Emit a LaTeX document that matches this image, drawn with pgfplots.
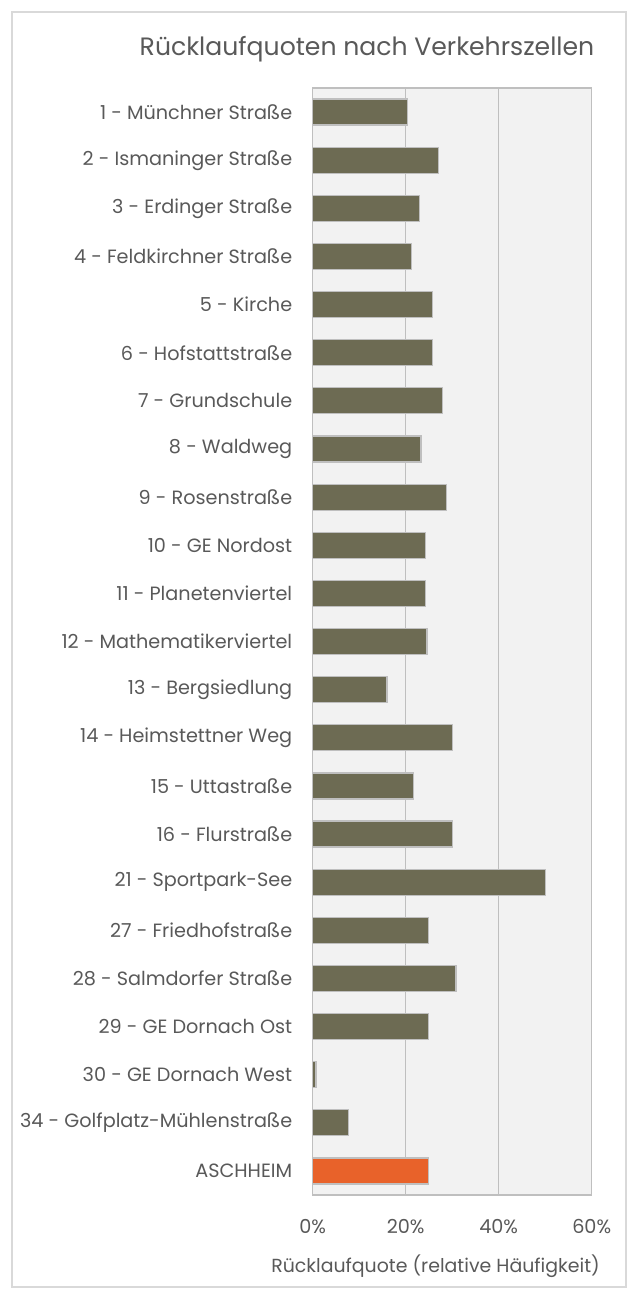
\documentclass[border=0pt]{standalone}
\usepackage{pgfplots}
\pgfplotsset{compat=1.18}
\usepackage{fontspec}
\setmainfont{Poppins}
\definecolor{txt}{HTML}{595959}
\definecolor{barc}{HTML}{6D6B53}
\definecolor{orng}{HTML}{E8622A}
\definecolor{gridc}{HTML}{BFBFBF}
\definecolor{bgc}{HTML}{F2F2F2}
\definecolor{framec}{HTML}{D9D9D9}
\begin{document}
\begin{tikzpicture}
\path[use as bounding box] (-312.7bp,-100bp) rectangle (317.3bp,1195bp);
\fill[white] (-312.7bp,-100bp) rectangle (317.3bp,1195bp);
\draw[framec, line width=1.5bp] (-300.7bp,-92bp) rectangle (313.3bp,1183bp);
\begin{axis}[
  at={(0,0)}, anchor=south west,
  scale only axis, width=279bp, height=1107bp,
  xbar, bar width=26bp, bar shift=0pt,
  xmin=0, xmax=60, ymin=-0.5, ymax=22.5, y dir=reverse,
  ytick={0,...,22},
  yticklabels={1 - Münchner Straße,2 - Ismaninger Straße,3 - Erdinger Straße,4 - Feldkirchner Straße,5 - Kirche,6 - Hofstattstraße,7 - Grundschule,8 - Waldweg,9 - Rosenstraße,10 - GE Nordost,11 - Planetenviertel,12 - Mathematikerviertel,13 - Bergsiedlung,14 - Heimstettner Weg,15 - Uttastraße,16 - Flurstraße,21 - Sportpark-See,27 - Friedhofstraße,28 - Salmdorfer Straße,29 - GE Dornach Ost,30 - GE Dornach West,34 - Golfplatz-Mühlenstraße,ASCHHEIM},
  xtick={0,20,40,60}, xticklabels={0\%,20\%,40\%,60\%},
  major tick length=0pt,
  xmajorgrids, grid style={gridc, line width=1.2bp},
  axis line style={gridc, line width=1.2bp},
  axis background/.style={fill=bgc},
  tick label style={font=\fontsize{19.3}{22}\selectfont, text=txt},
  yticklabel style={xshift=-17bp},
  xticklabel style={yshift=-21bp},
  clip=false,
]
\addplot[fill=barc, draw=gridc, line width=1.2bp] coordinates {
(20.4,0) (27.0,1) (22.9,2) (21.3,3) (25.8,4) (25.8,5) (27.9,6) (23.3,7)
(28.7,8) (24.2,9) (24.2,10) (24.6,11) (16.0,12) (30.0,13) (21.7,14) (30.0,15)
(50.0,16) (24.9,17) (30.8,18) (24.9,19) (0.7,20) (7.7,21)
};
\addplot[fill=orng, draw=gridc, line width=1.2bp] coordinates {(24.9,22)};
\end{axis}
\node[font=\fontsize{25.2}{30}\selectfont, text=txt] at (54.3bp,1146bp) {Rücklaufquoten nach Verkehrszellen};
\node[font=\fontsize{19}{22}\selectfont, text=txt] at (122.8bp,-71bp) {Rücklaufquote (relative Häufigkeit)};
\end{tikzpicture}
\end{document}
